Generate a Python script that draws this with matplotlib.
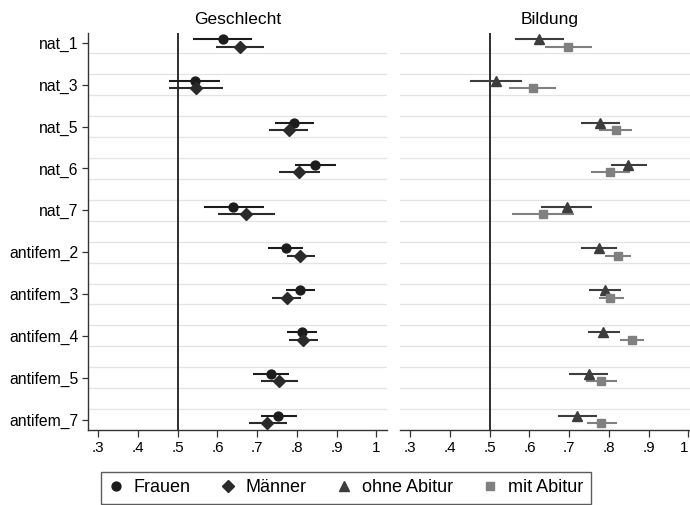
import matplotlib
matplotlib.use("Agg")
import matplotlib.pyplot as plt
from matplotlib.lines import Line2D
import numpy as np

plt.rcParams['font.family'] = ['Liberation Sans', 'DejaVu Sans']

categories = ['nat_1', 'nat_3', 'nat_5', 'nat_6', 'nat_7',
              'antifem_2', 'antifem_3', 'antifem_4', 'antifem_5', 'antifem_7']

frauen    = [.613, .544, .793, .846, .639, .772, .808, .812, .735, .753]
frauen_lo = [.539, .478, .745, .796, .565, .727, .773, .775, .690, .709]
frauen_hi = [.688, .607, .842, .898, .716, .816, .846, .850, .780, .800]

maenner    = [.657, .546, .779, .806, .672, .808, .775, .816, .756, .726]
maenner_lo = [.596, .478, .731, .756, .601, .775, .737, .779, .709, .680]
maenner_hi = [.716, .615, .829, .858, .745, .846, .811, .854, .802, .775]

ohne_abitur    = [.624, .515, .778, .848, .694, .775, .790, .786, .750, .721]
ohne_abitur_lo = [.563, .450, .730, .806, .629, .729, .751, .748, .700, .671]
ohne_abitur_hi = [.688, .580, .827, .896, .757, .820, .830, .827, .799, .769]

mit_abitur    = [.698, .608, .817, .803, .633, .822, .803, .858, .780, .781]
mit_abitur_lo = [.639, .548, .776, .755, .556, .790, .774, .828, .742, .744]
mit_abitur_hi = [.757, .666, .859, .852, .713, .855, .838, .889, .820, .820]

xticks = [.3, .4, .5, .6, .7, .8, .9, 1.0]
xticklabels = ['.3', '.4', '.5', '.6', '.7', '.8', '.9', '1']

W, H = 690, 505
fig = plt.figure(figsize=(W / 100, H / 100), dpi=100)

def fx(px):
    return px / W

ax_bottom = 1 - 430 / H
ax_height = (430 - 32.5) / H
ax_width = (387 - 88) / W
ax1 = fig.add_axes([fx(88), ax_bottom, ax_width, ax_height])
ax2 = fig.add_axes([fx(400), ax_bottom, ax_width, ax_height])

y = np.arange(len(categories))
off = 0.088

def panel(ax, series, title, show_y):
    ax.set_xlim(0.274, 1.027)
    ax.set_ylim(len(categories) - 0.75, -0.25)
    for g in np.arange(0.25, len(categories) - 1, 0.5):
        ax.axhline(g, color='#e3e3e3', lw=0.9, zorder=0)
    ax.axvline(0.5, color='#1f1f1f', lw=1.3, zorder=1)
    for vals, lo, hi, dy, marker, ms, col, lcol in series:
        yy = y + dy
        ax.hlines(yy, lo, hi, color=lcol, lw=1.5, zorder=2)
        ax.plot(vals, yy, linestyle='none', marker=marker, ms=ms,
                color=col, mec=col, zorder=3)
    ax.set_xticks(xticks)
    ax.set_xticklabels(xticklabels, fontsize=11)
    ax.tick_params(axis='x', length=5, width=0.9, color='#333333', pad=3)
    ax.set_title(title, fontsize=12.5, pad=6)
    for s in ['top', 'right']:
        ax.spines[s].set_visible(False)
    ax.spines['bottom'].set_color('#333333')
    ax.spines['bottom'].set_linewidth(1.0)
    if show_y:
        ax.set_yticks(y)
        ax.set_yticklabels(categories, fontsize=11.3)
        ax.tick_params(axis='y', length=4, width=0.9, color='#333333', pad=3)
        ax.spines['left'].set_color('#333333')
        ax.spines['left'].set_linewidth(1.0)
    else:
        ax.set_yticks([])
        ax.spines['left'].set_visible(False)

dark = '#1c1c1c'
tri = '#3d3d3d'
sq = '#808080'

panel(ax1, [
    (frauen, frauen_lo, frauen_hi, -off, 'o', 6.4, dark, dark),
    (maenner, maenner_lo, maenner_hi, off, 'D', 5.8, '#2a2a2a', '#2a2a2a'),
], 'Geschlecht', True)

panel(ax2, [
    (ohne_abitur, ohne_abitur_lo, ohne_abitur_hi, -off, '^', 7.0, tri, tri),
    (mit_abitur, mit_abitur_lo, mit_abitur_hi, off, 's', 6.2, sq, sq),
], 'Bildung', False)

# keep the last right-panel tick label inside the figure
ax2.get_xticklabels()[-1].set_horizontalalignment('right')

handles = [
    Line2D([], [], linestyle='none', marker='o', ms=6.4, color=dark),
    Line2D([], [], linestyle='none', marker='D', ms=5.8, color='#2a2a2a'),
    Line2D([], [], linestyle='none', marker='^', ms=7.0, color=tri),
    Line2D([], [], linestyle='none', marker='s', ms=6.2, color=sq),
]
labels = ['Frauen', 'Männer', 'ohne Abitur', 'mit Abitur']
leg = fig.legend(handles, labels, ncol=4, loc='center',
                 bbox_to_anchor=(346 / W, 1 - 488 / H),
                 fontsize=13, frameon=True, fancybox=False,
                 edgecolor='#333333', handlelength=0.8, handletextpad=0.6,
                 columnspacing=1.65, borderpad=0.4, borderaxespad=0)
leg.get_frame().set_linewidth(1.0)

fig.savefig('out.png', dpi=100)
